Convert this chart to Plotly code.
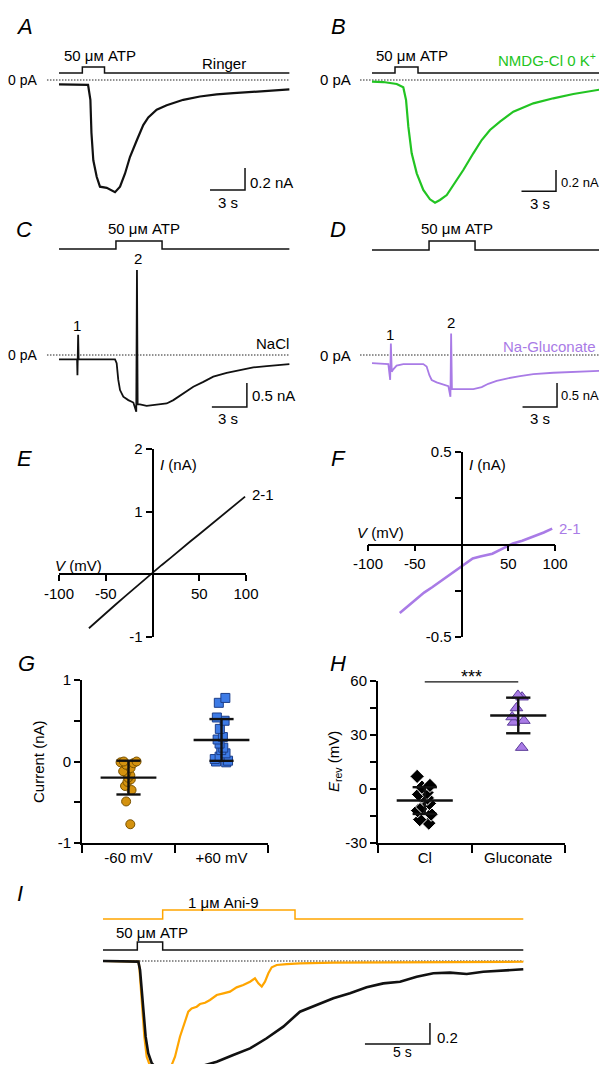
import numpy as np
import plotly.graph_objects as go

# reference canvas is 607x1072; the page body adds an 8px margin, so the figure is 591x1056
REF_W, REF_H = 607, 1072
OFF = 8
FW, FH = REF_W - 2 * OFF, REF_H - 2 * OFF
FONT = "Arial, Liberation Sans, Helvetica, sans-serif"
FS = 15
MU_M = "\u03bc\u043c"

# ---------------- DATA ----------------
# Panel A (Ringer): time (s) / current (nA)
a_t = [0, 2.49, 2.69, 2.78, 2.94, 3.23, 3.51, 4.09, 4.80, 5.23, 5.66, 6.08, 6.66, 7.22, 7.65, 8.37,
       9.23, 10.65, 12.08, 13.51, 14.94, 16.37, 17.80, 19.74]
a_i = [-0.04, -0.045, -0.18, -0.48, -0.73, -0.88, -0.97, -0.98, -1.02, -0.97, -0.85, -0.70, -0.55,
       -0.41, -0.34, -0.27, -0.23, -0.18, -0.15, -0.13, -0.12, -0.11, -0.10, -0.085]
a_atp = [2.0, 3.9]          # ATP on/off (s)

# Panel B (NMDG-Cl 0 K+)
b_t = [0, 0.98, 2.15, 2.72, 2.96, 3.16, 3.45, 3.89, 4.46, 5.04, 5.48, 5.91, 6.5, 7.07, 7.94, 8.81,
       9.54, 10.26, 11.13, 12.29, 14.03, 15.77, 17.51, 19.97]
b_i = [-0.016, -0.019, -0.037, -0.068, -0.187, -0.436, -0.685, -0.872, -1.028, -1.115, -1.147,
       -1.121, -1.075, -0.981, -0.841, -0.685, -0.561, -0.467, -0.389, -0.296, -0.218, -0.171,
       -0.131, -0.087]
b_atp = [2.0, 4.0]

# Panel C (NaCl) with voltage ramps 1 and 2
c_t = [0, 1.55, 1.58, 1.64, 1.68, 4.80, 4.94, 5.08, 5.23, 5.51, 5.94, 6.37, 6.62, 6.68, 6.74, 6.94,
       7.51, 8.37, 9.23, 9.80, 10.65, 11.51, 12.37, 13.22, 14.37, 15.51, 16.65, 17.80, 18.94, 19.74]
c_i = [-0.09, -0.09, -0.42, 0.42, -0.09, -0.09, -0.17, -0.52, -0.73, -0.87, -0.94, -0.99, -1.18,
       1.77, -1.03, -1.03, -1.06, -1.04, -1.01, -0.94, -0.80, -0.66, -0.56, -0.45, -0.37, -0.31,
       -0.26, -0.23, -0.20, -0.19]
c_atp = [4.88, 8.83]

# Panel D (Na-Gluconate)
d_t = [0, 1.42, 1.58, 1.64, 1.72, 1.85, 2.14, 2.72, 4.46, 4.75, 4.99, 5.19, 5.62, 6.20, 6.64, 6.82,
       6.88, 6.95, 7.07, 7.65, 8.81, 9.54, 10.11, 10.84, 11.71, 12.87, 14.03, 15.77, 17.50, 19.97]
d_i = [-0.17, -0.19, -0.52, 0.24, -0.35, -0.30, -0.22, -0.19, -0.19, -0.24, -0.42, -0.52, -0.57,
       -0.61, -0.65, -0.87, 0.45, -0.71, -0.71, -0.71, -0.71, -0.67, -0.60, -0.54, -0.49, -0.44,
       -0.40, -0.37, -0.35, -0.33]
d_atp = [4.96, 8.96]

# Panel E: I-V (2-1), NaCl
e_v = [-68, -60, -50, -40, -30, -20, -10, 0, 10, 20, 30, 40, 50, 60, 70, 80, 90, 99]
e_i = [-0.86, -0.75, -0.62, -0.49, -0.36, -0.23, -0.10, 0.03, 0.15, 0.27, 0.40, 0.52, 0.64,
       0.76, 0.88, 1.00, 1.12, 1.24]

# Panel F: I-V (2-1), Na-Gluconate
f_v = [-66, -60, -50, -40, -31, -20, -10, 0, 12, 20, 33, 45, 55, 65, 76, 88, 97]
f_i = [-0.37, -0.345, -0.30, -0.26, -0.23, -0.19, -0.155, -0.12, -0.076, -0.065, -0.05, -0.02,
       0.005, 0.02, 0.04, 0.065, 0.086]

# Panel G: current at -60 / +60 mV (nA)
g_categories = ["-60 mV", "+60 mV"]
g_neg = [0.0, 0.0, -0.01, -0.02, -0.04, -0.08, -0.12, -0.14, -0.17, -0.2, -0.22, -0.25, -0.3,
         -0.35, -0.49, -0.77]
g_pos = [0.78, 0.72, 0.54, 0.5, 0.4, 0.3, 0.27, 0.22, 0.17, 0.14, 0.1, 0.06, 0.03, 0.01, 0.0, -0.01]

# Panel H: reversal potential (mV)
h_categories = ["Cl", "Gluconate"]
h_cl = [7, 2, 1, -2, -3, -4, -5, -6, -8, -10, -12, -14, -17, -19]
h_glu = [52, 51, 45, 40, 38, 37, 23]

# Panel I: ATP response with / without Ani-9
i_ctrl_t = [0, 2.72, 2.85, 2.98, 3.10, 3.28, 3.48, 3.75, 4.13, 4.64, 5.41, 6.44, 7.46, 8.75, 10.02,
            11.31, 12.59, 13.87, 15.15, 16.44, 17.72, 19.00, 20.28, 21.56, 22.85, 24.13, 25.41,
            26.69, 27.98, 29.25, 30.54, 32.33]
i_ctrl_i = [0, -0.006, -0.086, -0.276, -0.498, -0.721, -0.879, -0.974, -1.022, -1.045, -1.038,
            -1.032, -1.006, -0.959, -0.895, -0.832, -0.736, -0.625, -0.483, -0.419, -0.355, -0.308,
            -0.251, -0.213, -0.197, -0.149, -0.117, -0.111, -0.124, -0.102, -0.092, -0.079]
i_ani_t = [0, 2.72, 2.79, 2.90, 3.02, 3.18, 3.36, 3.62, 4.13, 4.77, 5.21, 5.54, 5.92, 6.31, 6.56,
           6.82, 7.21, 7.46, 7.85, 8.23, 8.75, 9.26, 9.77, 10.28, 10.79, 11.31, 11.69, 11.95,
           12.21, 12.46, 12.72, 12.98, 13.36, 14.13, 15.15, 17.72, 32.33]
i_ani_i = [0, -0.006, -0.054, -0.245, -0.498, -0.721, -0.911, -1.0, -1.022, -1.032, -1.013,
           -0.911, -0.721, -0.562, -0.483, -0.451, -0.435, -0.41, -0.397, -0.371, -0.324, -0.308,
           -0.292, -0.251, -0.229, -0.197, -0.165, -0.213, -0.244, -0.197, -0.117, -0.060,
           -0.038, -0.029, -0.022, -0.016, -0.007]
i_atp = [2.64, 4.59]
i_ani9 = [4.59, 14.77]

# ---------------- STYLE ----------------
BLACK = "#111111"
GREEN = "#22c422"
PURPLE = "#a97be6"
ORANGE = "#ffa500"
G_ORANGE = "#d4920f"
G_BLUE = "#3d7be6"
DOT = "1.5px,1.5px"

fig = go.Figure()


def px_x(X):   # reference pixel -> paper x
    return (X - OFF) / FW


def px_y(Y):   # reference pixel -> paper y
    return 1 - (Y - OFF) / FH


def ax_names(n):
    return ("xaxis" if n == 1 else f"xaxis{n}", "yaxis" if n == 1 else f"yaxis{n}",
            "x" if n == 1 else f"x{n}", "y" if n == 1 else f"y{n}")


def trace_panel(n, box, t0_px, sx, i0_py, sy):
    l, r, t, b = box
    l, r = max(l, OFF), min(r, REF_W - OFF)
    t, b = max(t, OFF), min(b, REF_H - OFF)
    xa, ya, xr, yr = ax_names(n)
    fig.update_layout(**{
        xa: dict(domain=[px_x(l), px_x(r)], range=[(l - t0_px) / sx, (r - t0_px) / sx],
                 visible=False, anchor=yr, automargin=False),
        ya: dict(domain=[px_y(b), px_y(t)], range=[(i0_py - b) / sy, (i0_py - t) / sy],
                 visible=False, anchor=xr, automargin=False),
    })
    return xr, yr


def line(xr, yr, x, y, color=BLACK, width=1.5, dash=None):
    fig.add_trace(go.Scatter(x=x, y=y, xaxis=xr, yaxis=yr, mode="lines",
                             line=dict(color=color, width=width, dash=dash),
                             hoverinfo="skip", showlegend=False, cliponaxis=False))


def stim(xr, yr, t_end, onoff, base, top, color=BLACK, t_start=0):
    on, off = onoff
    line(xr, yr, [t_start, on, on, off, off, t_end], [base, base, top, top, base, base],
         color=color, width=1.5)


def scalebar(xr, yr, corner_t, corner_i, dt, di):
    line(xr, yr, [corner_t - dt, corner_t, corner_t], [corner_i, corner_i, corner_i + di],
         width=1.5)


anns = []


def ann(text, X, Y, size=FS, xa="center", ya="middle", color="black", angle=0):
    anns.append(dict(text=text, x=px_x(X), y=px_y(Y), xref="paper", yref="paper",
                     xanchor=xa, yanchor=ya, showarrow=False, textangle=angle,
                     font=dict(size=size, color=color, family=FONT)))


# ----- Panel A -----
xr, yr = trace_panel(1, (40, 300, 50, 205), 59, 11.67, 80, 110)
line(xr, yr, [-1.03, a_t[-1]], [0, 0], color="#222", width=1, dash=DOT)
stim(xr, yr, a_t[-1], a_atp, 0.064, 0.118)
line(xr, yr, a_t, a_i, color=BLACK, width=2.2)
scalebar(xr, yr, 15.94, -1.0, 3, 0.2)
ann("<i>A</i>", 24, 26, size=22)
ann(f"50 {MU_M} ATP", 100, 56)
ann("Ringer", 224, 63)
ann("0 pA", 39, 80, xa="right", size=14)
ann("0.2 nA", 248, 182, xa="left")
ann("3 s", 228, 202)

# ----- Panel B -----
xr, yr = trace_panel(2, (355, 607, 50, 210), 372, 11.5, 80, 107)
line(xr, yr, [-1.04, b_t[-1]], [0, 0], color="#222", width=1, dash=DOT)
stim(xr, yr, b_t[-1], b_atp, 0.065, 0.121)
line(xr, yr, b_t, b_i, color=GREEN, width=2.2)
scalebar(xr, yr, 16.0, -1.04, 3, 0.2)
ann("<i>B</i>", 338, 26, size=22)
ann(f"50 {MU_M} ATP", 412, 55)
ann("NMDG-Cl 0 K<sup>+</sup>", 598, 60, xa="right", color=GREEN)
ann("0 pA", 353, 80, xa="right")
ann("0.2 nA", 558.5, 182, xa="left", size=13)
ann("3 s", 540, 203)

# ----- Panel C -----
xr, yr = trace_panel(3, (40, 300, 230, 425), 59, 11.67, 355, 48)
line(xr, yr, [-1.03, c_t[-1]], [0, 0], color="#222", width=1, dash=DOT)
stim(xr, yr, c_t[-1], c_atp, 2.21, 2.375)
line(xr, yr, c_t, c_i, color=BLACK, width=1.8)
scalebar(xr, yr, 16.1, -1.083, 3, 0.5)
ann("<i>C</i>", 24, 230, size=22)
ann(f"50 {MU_M} ATP", 144, 228)
ann("2", 138, 259)
ann("1", 77, 325)
ann("NaCl", 272, 344)
ann("0 pA", 39, 355, xa="right", size=14)
ann("0.5 nA", 250, 395, xa="left")
ann("3 s", 228, 419)

# ----- Panel D -----
xr, yr = trace_panel(4, (355, 607, 230, 425), 372, 11.5, 355, 48)
line(xr, yr, [-1.04, d_t[-1]], [0, 0], color="#222", width=1, dash=DOT)
stim(xr, yr, d_t[-1], d_atp, 2.19, 2.375)
line(xr, yr, d_t, d_i, color=PURPLE, width=1.8)
scalebar(xr, yr, 16.09, -1.083, 3, 0.5)
ann("<i>D</i>", 338, 230, size=22)
ann(f"50 {MU_M} ATP", 457, 228)
ann("1", 390, 334)
ann("2", 451, 322)
ann("Na-Gluconate", 598, 346, xa="right", color=PURPLE)
ann("0 pA", 353, 355, xa="right")
ann("0.5 nA", 559, 395, xa="left", size=13)
ann("3 s", 540, 419)


# ----- Panels E / F (I-V with crossing axes) -----
def iv_axes(n, xbox, ybox, yrange, ytickvals, yticktext, yminor):
    l, r = xbox
    t, b = ybox
    xa, ya, xr, yr = ax_names(n)
    y0, y1 = yrange
    zero_py = b - (0 - y0) / (y1 - y0) * (b - t)
    zero_px = l + 0.5 * (r - l)
    common = dict(showgrid=False, zeroline=False, showline=True, linecolor="black",
                  linewidth=1.6, ticks="outside", tickwidth=1.6, tickcolor="black",
                  ticklen=6, automargin=False,
                  tickfont=dict(size=FS, family=FONT, color="black"))
    fig.update_layout(**{
        xa: dict(domain=[px_x(l), px_x(r)], range=[-100, 100], anchor="free",
                 position=px_y(zero_py), tickmode="array", tickvals=[-100, -50, 50, 100],
                 ticktext=["-100", "-50", "50", "100"], **common),
        ya: dict(domain=[px_y(b), px_y(t)], range=list(yrange), anchor="free",
                 position=px_x(zero_px), tickmode="array", tickvals=ytickvals,
                 ticktext=yticktext,
                 minor=dict(tickmode="array", tickvals=yminor, ticks="outside", ticklen=6,
                            tickwidth=1.6, tickcolor="black"), **common),
    })
    return xr, yr


xr, yr = iv_axes(5, (59, 246), (449, 637), (-1, 2), [-1, 1, 2], ["-1", "1", "2"], [0])
line(xr, yr, e_v, e_i, color=BLACK, width=1.8)
ann("<i>E</i>", 24, 459, size=22)
ann("<i>I</i> (nA)", 158, 464, xa="left")
ann("<i>V</i> (mV)", 53, 565, xa="left")
ann("2-1", 250, 494, xa="left")

xr, yr = iv_axes(6, (368, 555), (452, 637), (-0.5, 0.5), [-0.5, 0.5], ["-0.5", "0.5"],
                 [-0.25, 0.25])
line(xr, yr, f_v, f_i, color=PURPLE, width=2.6)
ann("<i>F</i>", 338, 459, size=22)
ann("<i>I</i> (nA)", 467, 464, xa="left")
ann("<i>V</i> (mV)", 355, 533, xa="left")
ann("2-1", 557, 528, xa="left", color=PURPLE)


# ----- Panels G / H (scatter dot plots) -----
def dot_axes(n, xbox, ybox, yrange, ytickvals, yminor, cats):
    l, r = xbox
    t, b = ybox
    xa, ya, xr, yr = ax_names(n)
    common = dict(showgrid=False, zeroline=False, showline=True, linecolor="black",
                  linewidth=2, automargin=False,
                  tickfont=dict(size=FS, family=FONT, color="black"))
    fig.update_layout(**{
        xa: dict(domain=[px_x(l), px_x(r)], range=[-0.5, 1.5], anchor=yr, tickmode="array",
                 tickvals=[0, 1], ticktext=cats, ticks="",
                 minor=dict(tickmode="array", tickvals=[-0.5, 0.5, 1.5], ticks="outside",
                            ticklen=8, tickwidth=2, tickcolor="black"), **common),
        ya: dict(domain=[px_y(b), px_y(t)], range=list(yrange), anchor=xr,
                 tickmode="array", tickvals=ytickvals, ticktext=[f"{v:g}" for v in ytickvals],
                 ticks="outside", ticklen=6, tickwidth=2, tickcolor="black",
                 minor=dict(tickmode="array", tickvals=yminor, ticks="outside", ticklen=6,
                            tickwidth=2, tickcolor="black"), **common),
    })
    return xr, yr


def dots(xr, yr, pos, vals, symbol, size, color, edge, edge_w=1):
    fig.add_trace(go.Box(x=[pos] * len(vals), y=vals, xaxis=xr, yaxis=yr, boxpoints="all",
                         jitter=0.7, pointpos=0, width=0.28, fillcolor="rgba(0,0,0,0)",
                         line=dict(color="rgba(0,0,0,0)", width=0), hoverinfo="skip",
                         marker=dict(symbol=symbol, size=size, color=color,
                                     line=dict(color=edge, width=edge_w)),
                         showlegend=False))


def mean_sd(xr, yr, pos, vals):
    m = float(np.mean(vals))
    s = float(np.std(vals, ddof=1))
    xs = [pos - 0.3, pos + 0.3, None, pos - 0.13, pos + 0.13, None, pos - 0.13, pos + 0.13,
          None, pos, pos]
    ys = [m, m, None, m + s, m + s, None, m - s, m - s, None, m - s, m + s]
    line(xr, yr, xs, ys, color=BLACK, width=2.4)


xr, yr = dot_axes(7, (82, 268), (680, 843), (-1, 1), [-1, 0, 1], [-0.5, 0.5], g_categories)
dots(xr, yr, 0, g_neg, "circle", 9, G_ORANGE, "#7a5200")
dots(xr, yr, 1, g_pos, "square", 9, G_BLUE, "#1d3f8a")
mean_sd(xr, yr, 0, g_neg)
mean_sd(xr, yr, 1, g_pos)
ann("<i>G</i>", 27, 663, size=22)
ann("Current (nA)", 38, 762, angle=-90)

xr, yr = dot_axes(8, (378, 565), (681, 843), (-30, 60), [-30, 0, 30, 60], [-15, 15, 45],
                  h_categories)
dots(xr, yr, 0, h_cl, "diamond", 11, "black", "white", 1)
dots(xr, yr, 1, h_glu, "triangle-up", 11, PURPLE, "#5b3c99")
mean_sd(xr, yr, 0, h_cl)
mean_sd(xr, yr, 1, h_glu)
line(xr, yr, [0, 1], [59.5, 59.5], color=BLACK, width=1.3)
ann("***", 471, 677, size=18)
ann("<i>H</i>", 338, 663, size=22)
ann("<i>E</i><sub>rev</sub> (mV)", 334, 762, angle=-90)

# ----- Panel I -----
xr, yr = trace_panel(9, (95, 560, 900, 1072), 103, 13.0, 961, 105)
line(xr, yr, [0, i_ctrl_t[-1]], [0, 0], color="#222", width=1, dash=DOT)
stim(xr, yr, i_ctrl_t[-1], i_ani9, 0.40, 0.486, color=ORANGE)
stim(xr, yr, i_ctrl_t[-1], i_atp, 0.105, 0.181)
line(xr, yr, i_ani_t, i_ani_i, color=ORANGE, width=2.2)
line(xr, yr, i_ctrl_t, i_ctrl_i, color=BLACK, width=2.6)
scalebar(xr, yr, 25.15, -0.79, 5, 0.2)
ann("<i>I</i>", 20, 893, size=22)
ann(f"1 {MU_M} Ani-9", 223, 902)
ann(f"50 {MU_M} ATP", 152, 932)
ann("0.2", 435, 1037, xa="left")
ann("5 s", 402, 1062, ya="bottom", size=14)

fig.update_layout(width=FW, height=FH,
                  margin=dict(l=0, r=0, t=0, b=0, pad=0, autoexpand=False),
                  paper_bgcolor="white", plot_bgcolor="white", showlegend=False,
                  boxmode="overlay", annotations=anns,
                  font=dict(family=FONT, size=FS, color="black"))

fig.write_html("out.html")
